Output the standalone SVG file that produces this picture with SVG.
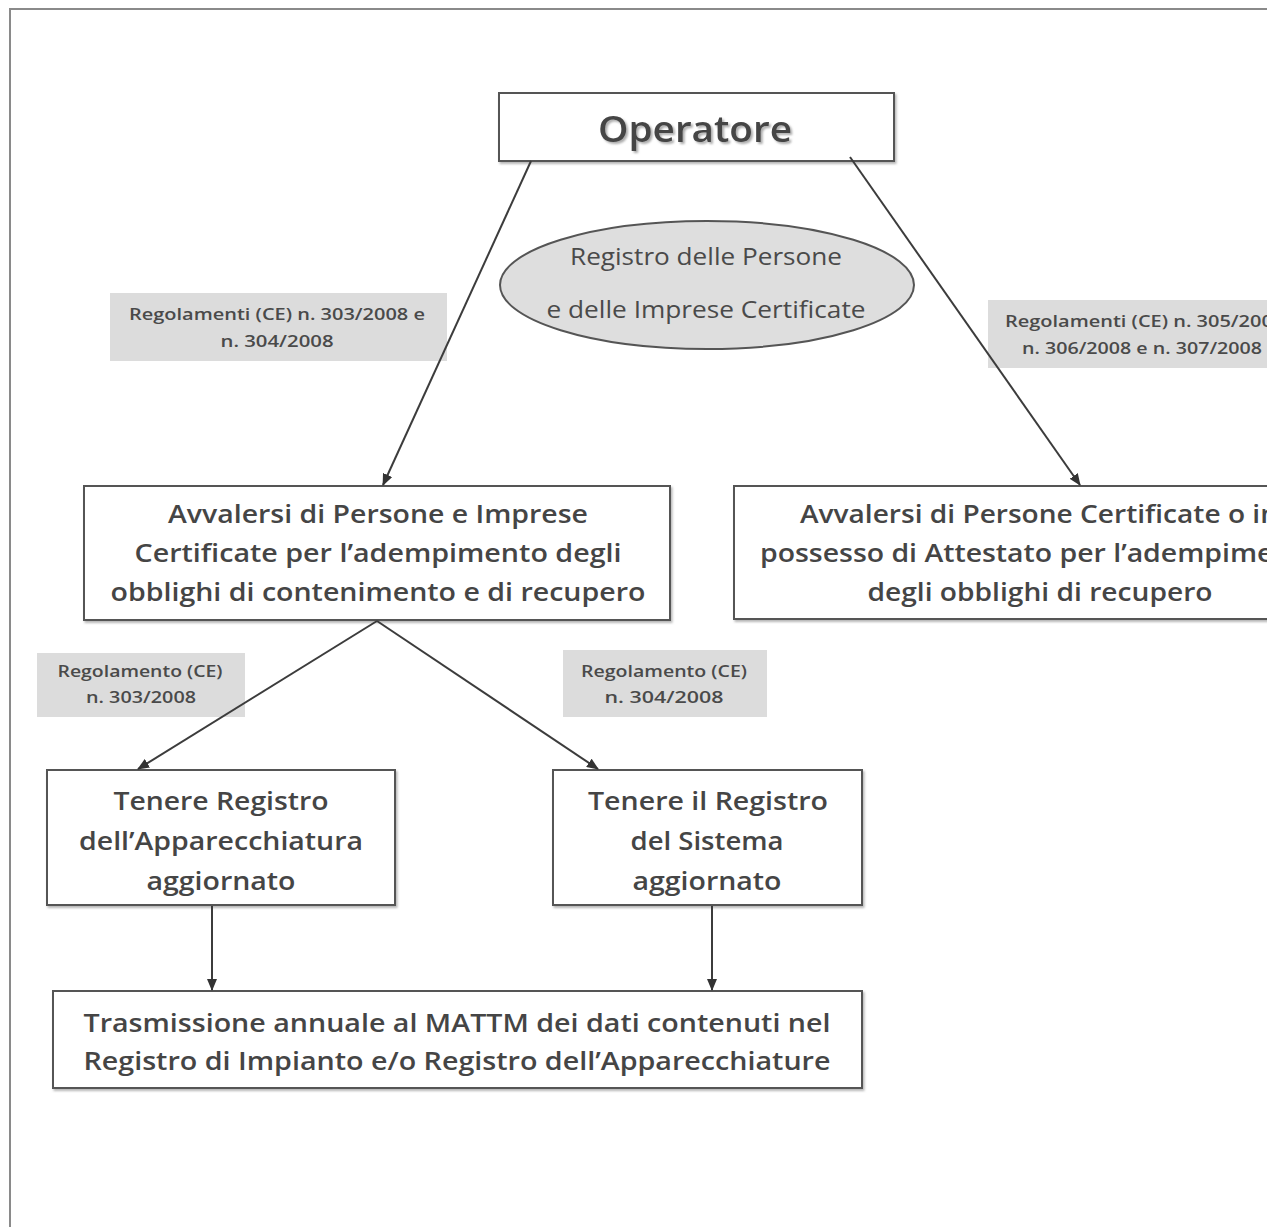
<svg xmlns="http://www.w3.org/2000/svg" width="1267" height="1227" viewBox="0 0 1267 1227">
<defs>
<style>
.box{fill:#fff;stroke:#555;stroke-width:2}
.lbl{fill:#dcdcdc;stroke:none}
.t{font-family:"Open Sans","Liberation Sans",sans-serif;font-weight:600;fill:#454545;text-anchor:middle}
.ts{font-family:"Open Sans","Liberation Sans",sans-serif;font-weight:400;fill:#4a4a4a;text-anchor:middle}
.tl{font-family:"Open Sans","Liberation Sans",sans-serif;font-weight:600;fill:#4a4a4a;text-anchor:middle}
.c{stroke:#3c3c3c;stroke-width:2;fill:none;marker-end:url(#ah)}
</style>
<marker id="ah" viewBox="0 0 12 10" refX="11" refY="5" markerWidth="12" markerHeight="10" markerUnits="userSpaceOnUse" orient="auto">
<path d="M0,0 L12,5 L0,10 z" fill="#333"/>
</marker>
<filter id="sh" x="-5%" y="-5%" width="115%" height="130%">
<feDropShadow dx="1.5" dy="2" stdDeviation="1" flood-color="#999" flood-opacity="0.7"/>
</filter>
<filter id="tsh" x="-5%" y="-10%" width="115%" height="130%">
<feDropShadow dx="2" dy="2" stdDeviation="1.2" flood-color="#888" flood-opacity="0.7"/>
</filter>
</defs>
<rect width="1267" height="1227" fill="#fff"/>
<g id="page-frame" stroke="#8a8a8a" stroke-width="2" fill="none">
<path d="M1267,9 H10 V1227"/>
</g>
<g id="operatore">
<rect class="box" x="499" y="93" width="395" height="68" filter="url(#sh)"/>
<text class="t" x="695" y="142" font-size="36" font-weight="700" textLength="194" lengthAdjust="spacingAndGlyphs" filter="url(#tsh)">Operatore</text>
</g>
<g id="registro-ellipse">
<ellipse cx="707" cy="285" rx="207" ry="64" fill="#dedede" stroke="#555" stroke-width="2"/>
<text class="ts" x="706" y="265" font-size="23" textLength="272" lengthAdjust="spacingAndGlyphs">Registro delle Persone</text>
<text class="ts" x="706" y="318" font-size="23" textLength="319" lengthAdjust="spacingAndGlyphs">e delle Imprese Certificate</text>
</g>
<g id="label-303-304">
<rect class="lbl" x="110" y="293" width="337" height="68"/>
<text class="tl" x="277" y="320" font-size="17" textLength="296" lengthAdjust="spacingAndGlyphs">Regolamenti (CE) n. 303/2008 e</text>
<text class="tl" x="277" y="347" font-size="17" textLength="113" lengthAdjust="spacingAndGlyphs">n. 304/2008</text>
</g>
<g id="label-305-307">
<rect class="lbl" x="988" y="300" width="290" height="68"/>
<text class="tl" x="1005" y="327" font-size="17" style="text-anchor:start" textLength="296" lengthAdjust="spacingAndGlyphs">Regolamenti (CE) n. 305/2008 e</text>
<text class="tl" x="1022" y="354" font-size="17" style="text-anchor:start" textLength="240" lengthAdjust="spacingAndGlyphs">n. 306/2008 e n. 307/2008</text>
</g>
<g id="avvalersi-imprese">
<rect class="box" x="84" y="486" width="586" height="134" filter="url(#sh)"/>
<text class="t" x="378" y="523" font-size="25" textLength="420" lengthAdjust="spacingAndGlyphs">Avvalersi di Persone e Imprese</text>
<text class="t" x="378" y="562" font-size="25" textLength="487" lengthAdjust="spacingAndGlyphs">Certificate per l’adempimento degli</text>
<text class="t" x="378" y="601" font-size="25" textLength="535" lengthAdjust="spacingAndGlyphs">obblighi di contenimento e di recupero</text>
</g>
<g id="avvalersi-attestato">
<rect class="box" x="734" y="486" width="620" height="133" filter="url(#sh)"/>
<text class="t" x="800" y="523" font-size="25" style="text-anchor:start" textLength="478" lengthAdjust="spacingAndGlyphs">Avvalersi di Persone Certificate o in</text>
<text class="t" x="760" y="562" font-size="25" style="text-anchor:start" textLength="560" lengthAdjust="spacingAndGlyphs">possesso di Attestato per l’adempimento</text>
<text class="t" x="1040" y="601" font-size="25" textLength="345" lengthAdjust="spacingAndGlyphs">degli obblighi di recupero</text>
</g>
<g id="label-303">
<rect class="lbl" x="37" y="653" width="208" height="64"/>
<text class="tl" x="140" y="677" font-size="17" textLength="165" lengthAdjust="spacingAndGlyphs">Regolamento (CE)</text>
<text class="tl" x="141" y="703" font-size="17" textLength="110" lengthAdjust="spacingAndGlyphs">n. 303/2008</text>
</g>
<g id="label-304">
<rect class="lbl" x="563" y="650" width="204" height="67"/>
<text class="tl" x="664" y="677" font-size="17" textLength="166" lengthAdjust="spacingAndGlyphs">Regolamento (CE)</text>
<text class="tl" x="664" y="703" font-size="17" textLength="119" lengthAdjust="spacingAndGlyphs">n.  304/2008</text>
</g>
<g id="registro-apparecchiatura">
<rect class="box" x="47" y="770" width="348" height="135" filter="url(#sh)"/>
<text class="t" x="221" y="810" font-size="25" textLength="215" lengthAdjust="spacingAndGlyphs">Tenere Registro</text>
<text class="t" x="221" y="850" font-size="25" textLength="284" lengthAdjust="spacingAndGlyphs">dell’Apparecchiatura</text>
<text class="t" x="221" y="890" font-size="25" textLength="149" lengthAdjust="spacingAndGlyphs">aggiornato</text>
</g>
<g id="registro-sistema">
<rect class="box" x="553" y="770" width="309" height="135" filter="url(#sh)"/>
<text class="t" x="708" y="810" font-size="25" textLength="240" lengthAdjust="spacingAndGlyphs">Tenere il Registro</text>
<text class="t" x="707" y="850" font-size="25" textLength="153" lengthAdjust="spacingAndGlyphs">del Sistema</text>
<text class="t" x="707" y="890" font-size="25" textLength="149" lengthAdjust="spacingAndGlyphs">aggiornato</text>
</g>
<g id="trasmissione">
<rect class="box" x="53" y="991" width="809" height="97" filter="url(#sh)"/>
<text class="t" x="457" y="1032" font-size="25" textLength="747" lengthAdjust="spacingAndGlyphs">Trasmissione annuale al MATTM dei dati contenuti nel</text>
<text class="t" x="457" y="1070" font-size="25" textLength="747" lengthAdjust="spacingAndGlyphs">Registro di Impianto e/o Registro dell’Apparecchiature</text>
</g>
<g id="connectors">
<line class="c" x1="531" y1="161" x2="383" y2="485"/>
<line class="c" x1="850" y1="157" x2="1080" y2="485"/>
<line class="c" x1="377" y1="621" x2="138" y2="769"/>
<line class="c" x1="377" y1="621" x2="598" y2="769"/>
<line class="c" x1="212" y1="906" x2="212" y2="990"/>
<line class="c" x1="712" y1="906" x2="712" y2="990"/>
</g>
</svg>
